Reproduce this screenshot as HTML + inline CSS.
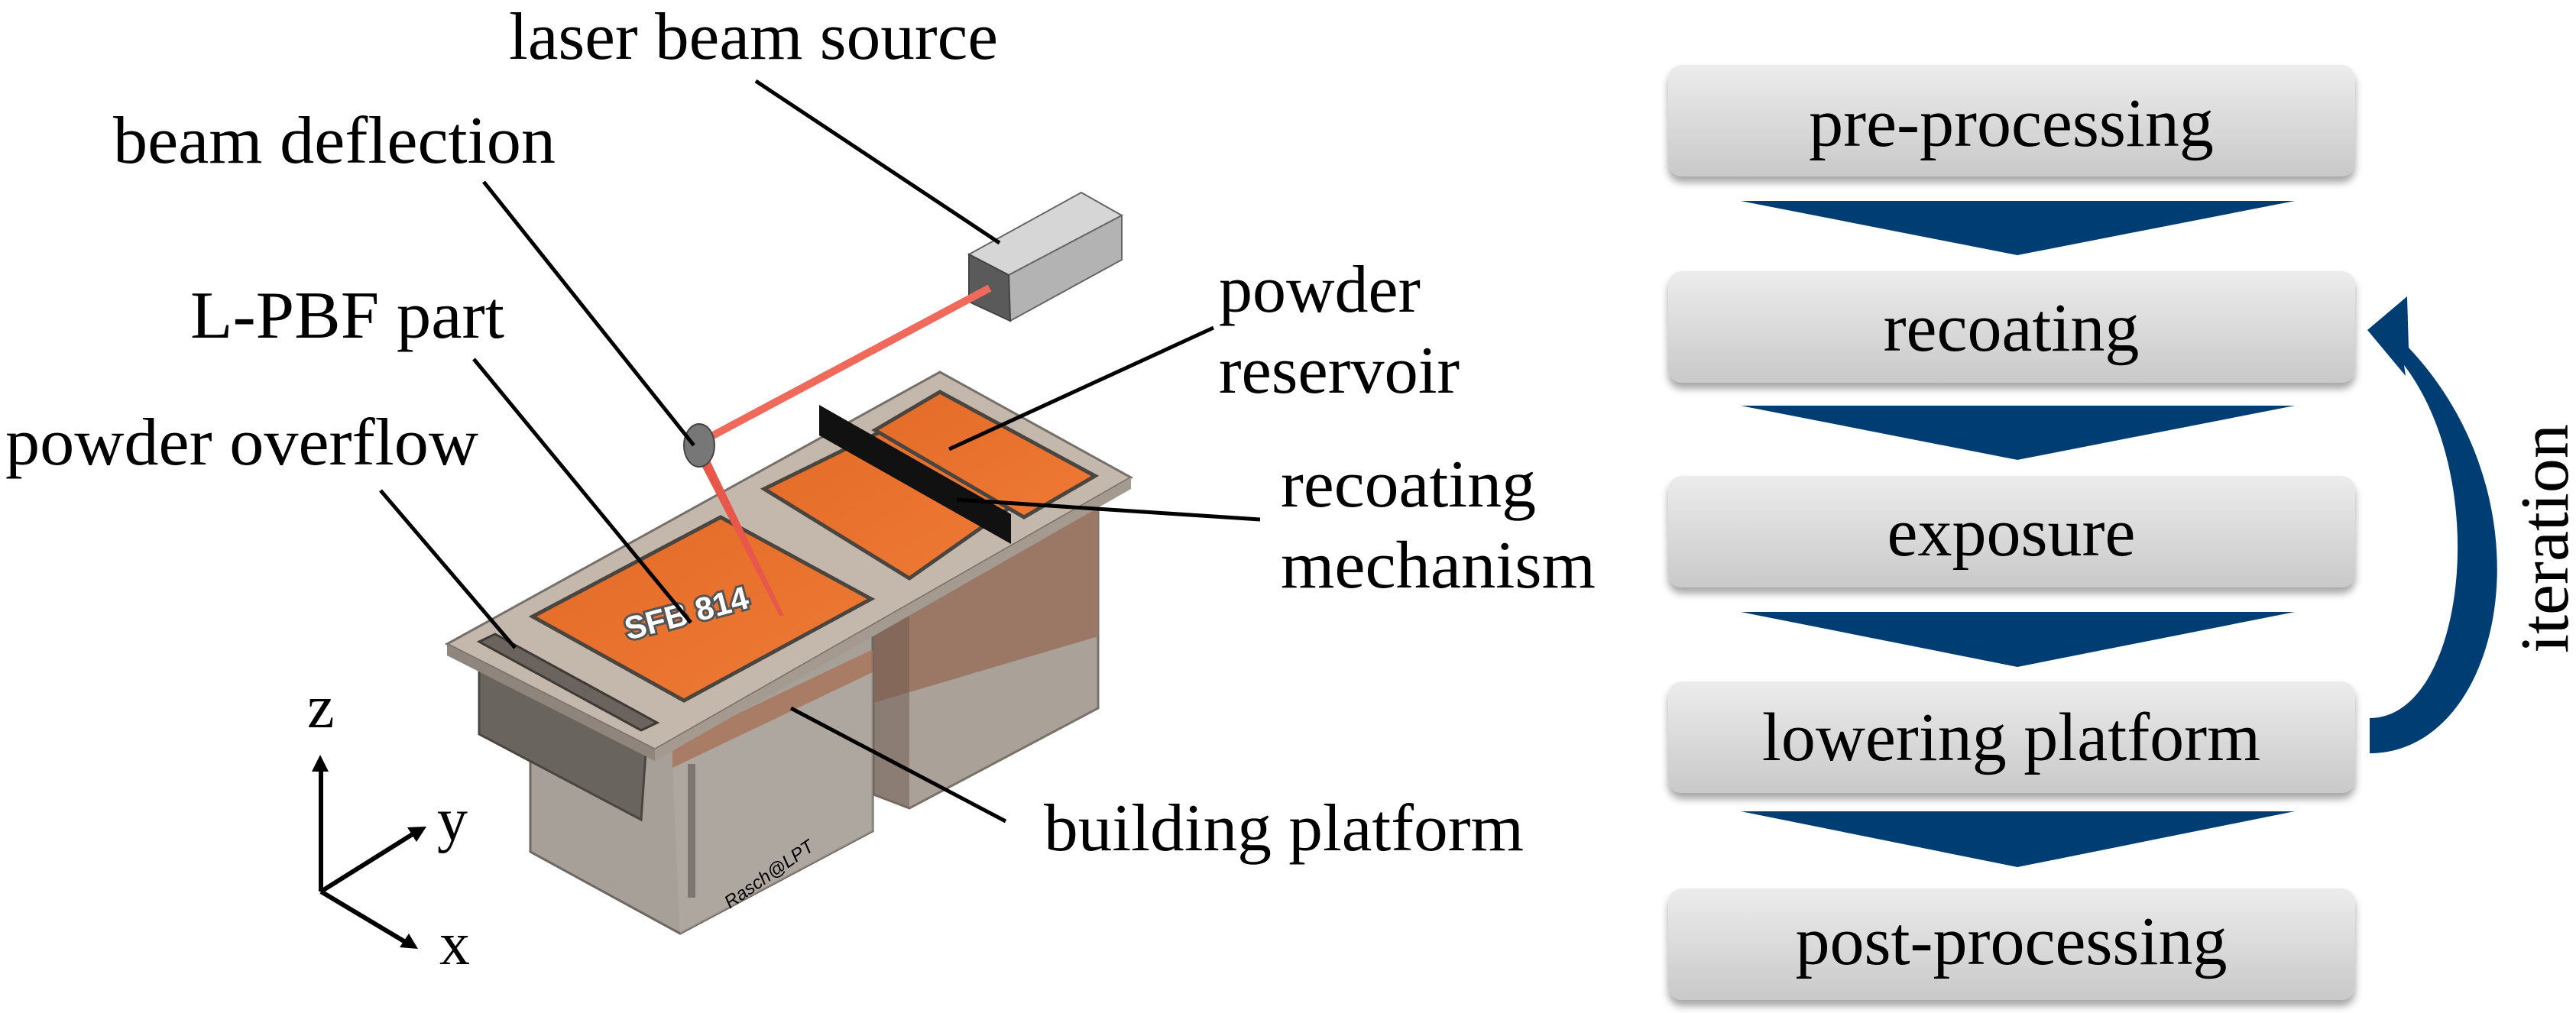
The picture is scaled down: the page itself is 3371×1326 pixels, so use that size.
<!DOCTYPE html>
<html><head><meta charset="utf-8"><style>
html,body{margin:0;padding:0;background:#fff}
svg{display:block}
text{font-family:"Liberation Serif",serif;fill:#000}
text.sans{font-family:"Liberation Sans",sans-serif}
</style></head><body>
<svg width="3371" height="1326" viewBox="0 0 3371 1326" xmlns="http://www.w3.org/2000/svg">
<defs>
<linearGradient id="bx" x1="0" y1="0" x2="0" y2="1">
<stop offset="0" stop-color="#ececec"/><stop offset="1" stop-color="#c9c9c9"/></linearGradient>
<filter id="sh" x="-5%" y="-20%" width="110%" height="150%"><feDropShadow dx="0" dy="8" stdDeviation="5" flood-color="#000" flood-opacity="0.35"/></filter>
<linearGradient id="org" x1="0" y1="0" x2="1" y2="1"><stop offset="0" stop-color="#e36b27"/><stop offset="1" stop-color="#ee7a35"/></linearGradient>
</defs>

<!-- right container -->
<polygon points="1143,776 1437,650 1437,927 1190,1058 1143,1040" fill="#aaa199" stroke="#7a716a" stroke-width="3"/>
<polygon points="1143,776 1437,650 1437,833 1143,920" fill="#9b7866"/>
<polygon points="1143,780 1190,770 1190,1058 1143,1040" fill="#6e5a50" opacity="0.5"/>
<!-- front container -->
<polygon points="694,830 694,1115 890,1222 1142,1088 1142,800" fill="#a7a098" stroke="#6f6862" stroke-width="3"/>
<polygon points="880,975 1142,850 1142,880 880,1005" fill="#a9755c" opacity="0.85"/>
<polygon points="880,1005 1142,880 1142,1088 890,1222" fill="#b3aca4" opacity="0.6"/>
<line x1="905" y1="1000" x2="905" y2="1175" stroke="#7d756f" stroke-width="10"/>
<text class="sans" x="955" y="1190" font-size="24" font-style="italic" transform="rotate(-35 955 1190)" fill="#333">Rasch@LPT</text>
<!-- overflow box -->
<polygon points="627,850 627,961 839,1073 845,985" fill="#6a645e" stroke="#4a4540" stroke-width="3"/>
<!-- plate -->
<polygon points="585,843 1230,487 1480,625 857,981" fill="#c4b8ac" stroke="#77706a" stroke-width="3"/>
<polygon points="585,843 857,981 857,996 585,858" fill="#8f857c"/>
<polygon points="857,981 1480,625 1480,640 857,996" fill="#a59a90"/>
<!-- overflow slot -->
<polygon points="627,840 648,830 860,946 839,956" fill="#6b645e" stroke="#3e3a36" stroke-width="3"/>
<!-- build powder -->
<polygon points="697,807 943,677 1140,784 895,917" fill="url(#org)" stroke="#4b4540" stroke-width="5"/>
<!-- middle powder -->
<polygon points="1000,640 1169,557 1322,664 1190,757" fill="url(#org)" stroke="#4b4540" stroke-width="5"/>
<!-- reservoir powder -->
<polygon points="1145,563 1230,513 1433,623 1340,677" fill="url(#org)" stroke="#4b4540" stroke-width="5"/>
<!-- blade -->
<polygon points="1072,530 1323,673 1323,712 1072,570" fill="#111"/>
<g transform="rotate(-15 822 838)">
<text class="sans" x="822" y="838" font-size="42" font-weight="bold" style="fill:none;stroke:#555;stroke-width:6">SFB 814</text>
<text class="sans" x="822" y="838" font-size="42" font-weight="bold" style="fill:#fff">SFB 814</text>
</g>

<!-- laser source -->
<polygon points="1268,333 1415,252 1468,282 1320,360" fill="#d6d6d6" stroke="#666" stroke-width="2"/>
<polygon points="1320,360 1468,282 1468,340 1322,420" fill="#b3b3b3" stroke="#666" stroke-width="2"/>
<polygon points="1268,333 1320,360 1322,420 1268,395" fill="#5a5a5a" stroke="#444" stroke-width="2"/>
<!-- beam -->
<line x1="1295" y1="377" x2="918" y2="578" stroke="#f06a5c" stroke-width="10"/>
<polygon points="908,590 922,588 1026,806 1020,806" fill="#e8584a"/>
<ellipse cx="915" cy="583" rx="20" ry="28" fill="#777" stroke="#444" stroke-width="2"/>

<!-- leader lines -->
<g stroke="#000" stroke-width="5" fill="none">
<line x1="989" y1="106" x2="1308" y2="318"/>
<line x1="633" y1="238" x2="908" y2="583"/>
<line x1="620" y1="470" x2="904" y2="815"/>
<line x1="498" y1="642" x2="674" y2="848"/>
<line x1="1588" y1="429" x2="1242" y2="588"/>
<line x1="1252" y1="654" x2="1649" y2="680"/>
<line x1="1035" y1="927" x2="1316" y2="1075"/>
</g>

<!-- axes -->
<g stroke="#000" stroke-width="6" fill="none">
<line x1="420" y1="1167" x2="420" y2="1005"/>
<line x1="420" y1="1167" x2="543" y2="1090"/>
<line x1="420" y1="1167" x2="532" y2="1234"/>
</g>
<polygon points="419,988 408,1010 430,1010" fill="#000"/>
<polygon points="558,1082 533,1083 545,1102" fill="#000"/>
<polygon points="547,1242 535,1222 523,1240" fill="#000"/>
<text x="402" y="952" font-size="80">z</text>
<text x="572" y="1100" font-size="80">y</text>
<text x="575" y="1262" font-size="80">x</text>

<!-- labels -->
<g font-size="88">
<text x="666" y="77" textLength="640" lengthAdjust="spacingAndGlyphs">laser beam source</text>
<text x="148" y="213" textLength="579" lengthAdjust="spacingAndGlyphs">beam deflection</text>
<text x="249" y="442" textLength="411" lengthAdjust="spacingAndGlyphs">L-PBF part</text>
<text x="7" y="608" textLength="619" lengthAdjust="spacingAndGlyphs">powder overflow</text>
<text x="1595" y="408">powder</text>
<text x="1595" y="514" textLength="315" lengthAdjust="spacingAndGlyphs">reservoir</text>
<text x="1676" y="663" textLength="334" lengthAdjust="spacingAndGlyphs">recoating</text>
<text x="1676" y="769" textLength="412" lengthAdjust="spacingAndGlyphs">mechanism</text>
<text x="1366" y="1113" textLength="628" lengthAdjust="spacingAndGlyphs">building platform</text>
</g>

<!-- process boxes -->
<g filter="url(#sh)">
<rect x="2183" y="85" width="899" height="146" rx="18" fill="url(#bx)"/>
<rect x="2183" y="355" width="899" height="146" rx="18" fill="url(#bx)"/>
<rect x="2183" y="623" width="899" height="146" rx="18" fill="url(#bx)"/>
<rect x="2183" y="892" width="899" height="146" rx="18" fill="url(#bx)"/>
<rect x="2183" y="1163" width="899" height="146" rx="18" fill="url(#bx)"/>
</g>
<g fill="#003d73">
<polygon points="2278,263 3003,263 2640,334"/>
<polygon points="2278,531 3003,531 2640,602"/>
<polygon points="2278,801 3003,801 2640,873"/>
<polygon points="2278,1062 3003,1062 2640,1135"/>
</g>
<g font-size="90" text-anchor="middle">
<text x="2632" y="191">pre-processing</text>
<text x="2632" y="459">recoating</text>
<text x="2632" y="727">exposure</text>
<text x="2632" y="995">lowering platform</text>
<text x="2632" y="1262">post-processing</text>
</g>
<!-- iteration arrow -->
<path d="M3101,986 C3275,986 3345,660 3152,455 L3150,388 L3098,432 L3148,492 L3146,478 C3262,630 3225,940 3101,940 Z" fill="#003d73"/>
<text x="3360" y="705" font-size="90" text-anchor="middle" transform="rotate(-90 3360 705)">iteration</text>
</svg>
</body></html>
